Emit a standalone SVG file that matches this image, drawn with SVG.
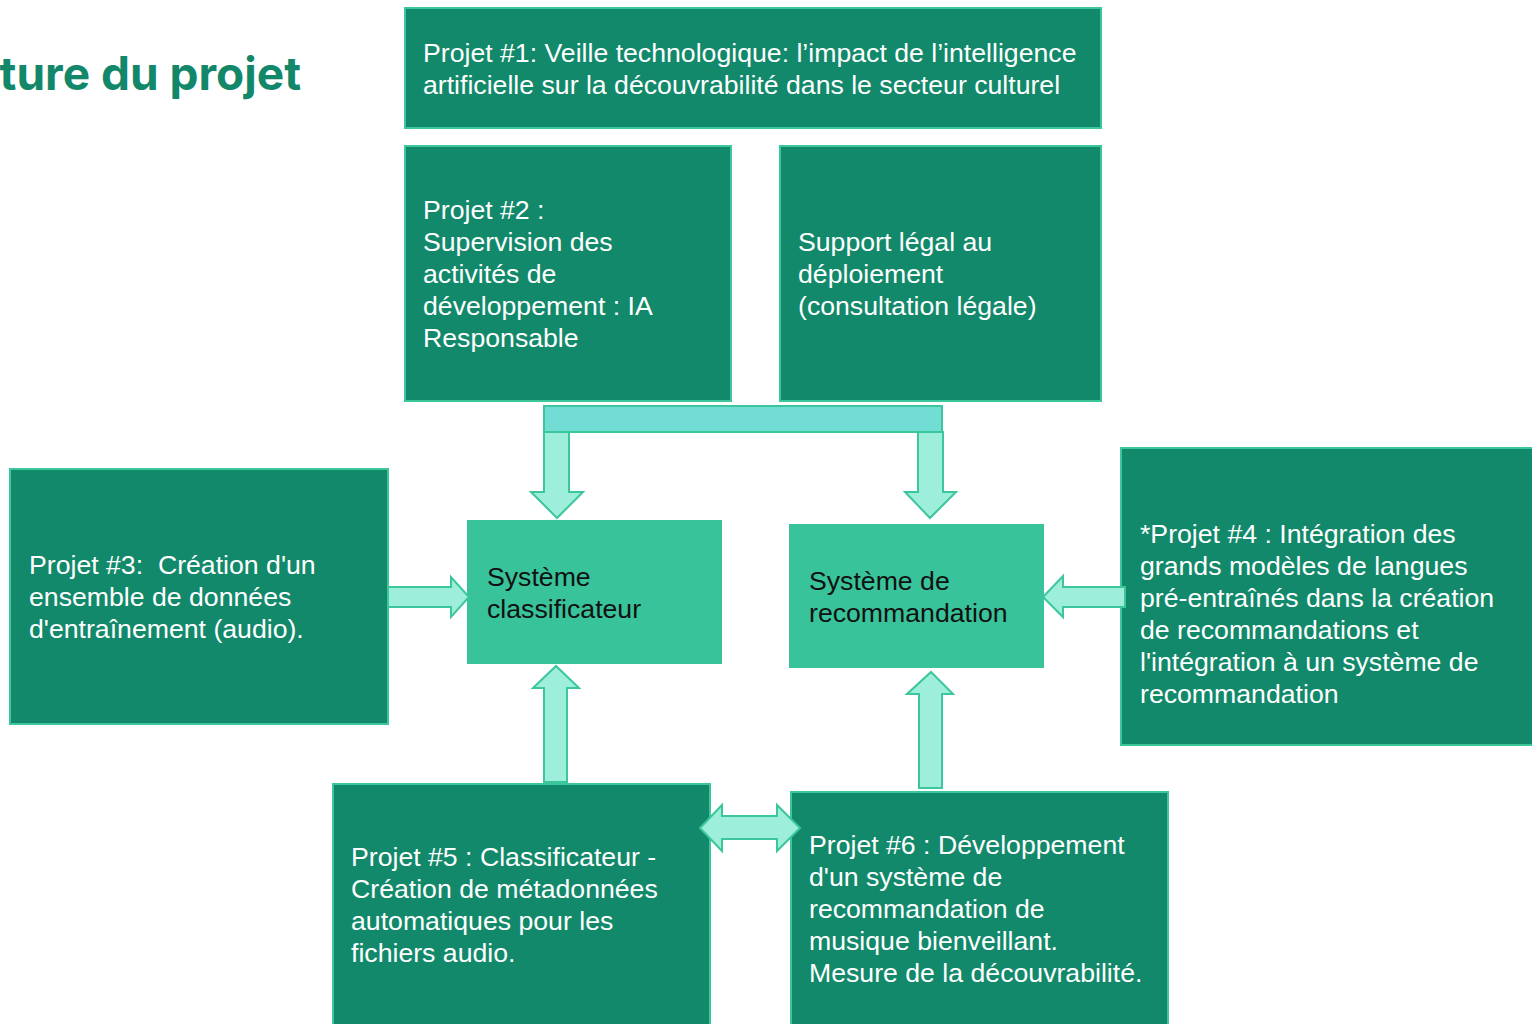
<svg xmlns="http://www.w3.org/2000/svg" width="1532" height="1024" viewBox="0 0 1532 1024">
<style>
.box{fill:#12896a;stroke:#3cc69c;stroke-width:2}
.sys{fill:#38c39a;stroke:#38c39a;stroke-width:2}
.arr{fill:#9deedb;stroke:#3cc69b;stroke-width:2;stroke-linejoin:miter}
.bar{fill:#72ddd4;stroke:#3cc69b;stroke-width:2}
.t{font-family:"Liberation Sans",Arial,sans-serif;font-size:26.67px;fill:#ffffff;white-space:pre}
.tb{font-family:"Liberation Sans",Arial,sans-serif;font-size:26.67px;fill:#111111}
.title{font-family:Inter,"Liberation Sans",sans-serif;font-weight:700;font-size:46px;fill:#12876a}
</style>
<rect width="1532" height="1024" fill="#ffffff"/>
<text class="title" x="301" y="90" text-anchor="end">ture du projet</text>

<g id="projet1">
  <rect class="box" x="405" y="8" width="696" height="120"/>
  <text class="t" x="423" y="62">Projet #1: Veille technologique: l’impact de l’intelligence</text>
  <text class="t" x="423" y="94">artificielle sur la découvrabilité dans le secteur culturel</text>
</g>

<g id="projet2">
  <rect class="box" x="405" y="146" width="326" height="255"/>
  <text class="t" x="423" y="219">Projet #2 :</text>
  <text class="t" x="423" y="251">Supervision des</text>
  <text class="t" x="423" y="283">activités de</text>
  <text class="t" x="423" y="315">développement : IA</text>
  <text class="t" x="423" y="347">Responsable</text>
</g>

<g id="support-legal">
  <rect class="box" x="780" y="146" width="321" height="255"/>
  <text class="t" x="798" y="251">Support légal au</text>
  <text class="t" x="798" y="283">déploiement</text>
  <text class="t" x="798" y="315">(consultation légale)</text>
</g>

<g id="projet3">
  <rect class="box" x="10" y="469" width="378" height="255"/>
  <text class="t" x="29" y="574">Projet #3:  Création d'un</text>
  <text class="t" x="29" y="606">ensemble de données</text>
  <text class="t" x="29" y="638">d'entraînement (audio).</text>
</g>

<g id="systeme-classificateur">
  <rect class="sys" x="468" y="521" width="253" height="142"/>
  <text class="tb" x="487" y="586">Système</text>
  <text class="tb" x="487" y="618">classificateur</text>
</g>

<g id="systeme-recommandation">
  <rect class="sys" x="790" y="525" width="253" height="142"/>
  <text class="tb" x="809" y="590">Système de</text>
  <text class="tb" x="809" y="622">recommandation</text>
</g>

<g id="projet4">
  <rect class="box" x="1121" y="448" width="420" height="297"/>
  <text class="t" x="1140" y="543">*Projet #4 : Intégration des</text>
  <text class="t" x="1140" y="575">grands modèles de langues</text>
  <text class="t" x="1140" y="607">pré-entraînés dans la création</text>
  <text class="t" x="1140" y="639">de recommandations et</text>
  <text class="t" x="1140" y="671">l'intégration à un système de</text>
  <text class="t" x="1140" y="703">recommandation</text>
</g>

<g id="projet5">
  <rect class="box" x="333" y="784" width="377" height="250"/>
  <text class="t" x="351" y="866">Projet #5 : Classificateur -</text>
  <text class="t" x="351" y="898">Création de métadonnées</text>
  <text class="t" x="351" y="930">automatiques pour les</text>
  <text class="t" x="351" y="962">fichiers audio.</text>
</g>

<g id="projet6">
  <rect class="box" x="791" y="792" width="377" height="242"/>
  <text class="t" x="809" y="854">Projet #6 : Développement</text>
  <text class="t" x="809" y="886">d'un système de</text>
  <text class="t" x="809" y="918">recommandation de</text>
  <text class="t" x="809" y="950">musique bienveillant.</text>
  <text class="t" x="809" y="982">Mesure de la découvrabilité.</text>
</g>

<g id="connectors">
  <rect class="bar" x="544" y="406" width="398" height="26"/>
  <polygon class="arr" points="544,432 569,432 569,492 583,492 557,518 531,492 544,492"/>
  <polygon class="arr" points="918,432 943,432 943,492 956,492 930,518 905,492 918,492"/>
  <polygon class="arr" points="388,587 451,587 451,577 469,597 451,617 451,607 388,607"/>
  <polygon class="arr" points="1125,587 1063,587 1063,576 1043,597 1063,617 1063,607 1125,607"/>
  <polygon class="arr" points="544,782 544,688 533,688 556,666 579,688 567,688 567,782"/>
  <polygon class="arr" points="919,788 919,694 907,694 931,672 953,694 942,694 942,788"/>
  <polygon class="arr" points="700,828 722,805 722,816 777,816 777,805 800,828 777,851 777,839 722,839 722,851"/>
</g>
</svg>
